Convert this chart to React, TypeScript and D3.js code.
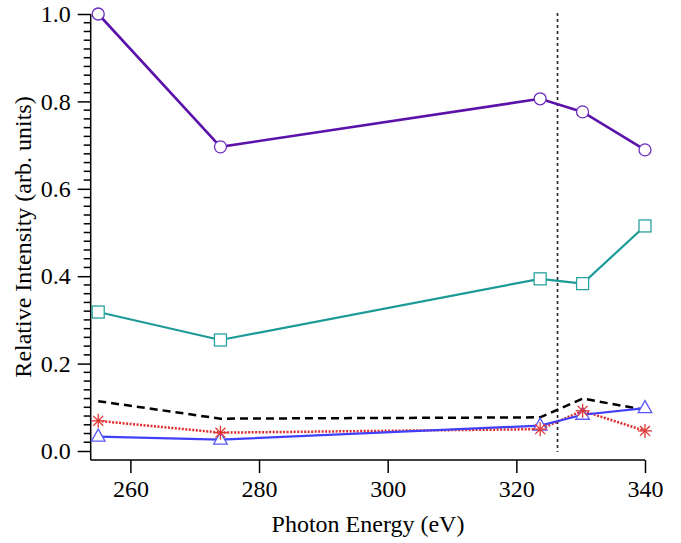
import React, { useEffect, useRef } from 'react'
import * as d3 from 'd3'

// photon energies (eV) and relative intensities per series
const energies = [255, 274, 323.7, 330.3, 340]
const circleSeries = [1.0, 0.696, 0.806, 0.776, 0.689]
const squareSeries = [0.318, 0.254, 0.394, 0.383, 0.515]
const dashedSeries = [0.114, 0.074, 0.077, 0.12, 0.094]
const starSeries = [0.069, 0.042, 0.05, 0.092, 0.046]
const triangleSeries = [0.033, 0.026, 0.058, 0.083, 0.098]
const markerLine = 326.4
const xTicks = [260, 280, 300, 320, 340]
const yTicks = [0, 0.2, 0.4, 0.6, 0.8, 1.0]

const FONT = '"Times New Roman", "Liberation Serif", Tinos, serif'

function App() {
  const ref = useRef<SVGSVGElement>(null)

  useEffect(() => {
    document.body.style.margin = '0'
    const svg = d3.select(ref.current)
    svg.selectAll('*').remove()

    const x = d3.scaleLinear().domain([253.83, 340]).range([90.7, 645])
    const y = d3.scaleLinear().domain([-0.0206, 1.0]).range([460, 14])

    // X axis
    const gx = svg
      .append('g')
      .attr('transform', 'translate(0, 460)')
      .call(d3.axisBottom(x).tickValues(xTicks).tickSize(13).tickPadding(7).tickFormat(d3.format('d')))
    gx.select('.domain').attr('d', `M${x.range()[0]},0H${x.range()[1]}`)
    // Y axis
    const gy = svg
      .append('g')
      .attr('transform', 'translate(90.7, 0)')
      .call(d3.axisLeft(y).tickValues(yTicks).tickSize(13).tickPadding(7).tickFormat(d3.format('.1f')))
    gy.select('.domain').attr('d', `M0,${y.range()[0]}V${y.range()[1]}`)
    // minor ticks
    const minor = d3.range(1, 50).map(i => i * 0.02).filter(v => Math.round(v * 100) % 20 !== 0)
    gy.selectAll('line.minor')
      .data(minor)
      .enter()
      .append('line')
      .attr('class', 'minor')
      .attr('x1', -7)
      .attr('x2', 0)
      .attr('y1', d => y(d))
      .attr('y2', d => y(d))
      .attr('stroke', '#000')
      .attr('stroke-width', 1.5)

    gx.attr('font-family', FONT).attr('font-size', 24)
    gy.attr('font-family', FONT).attr('font-size', 24)
    svg.selectAll('.domain, .tick line').attr('stroke', '#000').attr('stroke-width', 1.5)
    svg.selectAll('.tick text')
      .attr('font-family', FONT)
      .attr('font-size', 24)
      .attr('fill', '#000')

    // axis titles
    svg.append('text')
      .attr('x', 368)
      .attr('y', 532)
      .attr('text-anchor', 'middle')
      .attr('font-family', FONT)
      .attr('font-size', 24)
      .text('Photon Energy (eV)')
    svg.append('text')
      .attr('transform', 'translate(31, 237) rotate(-90)')
      .attr('text-anchor', 'middle')
      .attr('font-family', FONT)
      .attr('font-size', 24)
      .text('Relative Intensity (arb. units)')

    // vertical dotted marker
    svg.append('line')
      .attr('x1', x(markerLine))
      .attr('x2', x(markerLine))
      .attr('y1', 13)
      .attr('y2', 452)
      .attr('stroke', '#222')
      .attr('stroke-width', 1.6)
      .attr('stroke-dasharray', '3,3')

    const line = d3.line<number>().x((d, i) => x(energies[i])).y(d => y(d))

    const drawLine = (vals: number[], color: string, width: number, dash?: string) => {
      const p = svg.append('path')
        .attr('d', line(vals))
        .attr('fill', 'none')
        .attr('stroke', color)
        .attr('stroke-width', width)
      if (dash) p.attr('stroke-dasharray', dash)
    }

    drawLine(dashedSeries, '#000', 2.5, '8,5')
    drawLine(starSeries, '#e02a2a', 2.5, '2,1.5')
    drawLine(triangleSeries, '#4040f8', 2.2)
    drawLine(squareSeries, '#1b9a97', 2.2)
    drawLine(circleSeries, '#5a12aa', 2.6)

    // markers
    svg.selectAll('circle.pt')
      .data(circleSeries)
      .enter()
      .append('circle')
      .attr('cx', (d, i) => x(energies[i]))
      .attr('cy', d => y(d))
      .attr('r', 6)
      .attr('fill', '#fff')
      .attr('stroke', '#6a2cc0')
      .attr('stroke-width', 1.3)

    svg.selectAll('rect.pt')
      .data(squareSeries)
      .enter()
      .append('rect')
      .attr('x', (d, i) => x(energies[i]) - 6)
      .attr('y', d => y(d) - 6)
      .attr('width', 12)
      .attr('height', 12)
      .attr('fill', '#fff')
      .attr('stroke', '#2aa3a0')
      .attr('stroke-width', 1.3)

    svg.selectAll('path.tri')
      .data(triangleSeries)
      .enter()
      .append('path')
      .attr('d', 'M0,-7.5L6.8,4.5L-6.8,4.5Z')
      .attr('transform', (d, i) => `translate(${x(energies[i])}, ${y(d)})`)
      .attr('fill', '#fff')
      .attr('stroke', '#5a5af8')
      .attr('stroke-width', 1.3)

    const star = svg.selectAll('g.star')
      .data(starSeries)
      .enter()
      .append('g')
      .attr('transform', (d, i) => `translate(${x(energies[i])}, ${y(d)})`)
    ;[0, 45, 90, 135].forEach(a => {
      star.append('line')
        .attr('x1', -7)
        .attr('x2', 7)
        .attr('y1', 0)
        .attr('y2', 0)
        .attr('transform', `rotate(${a})`)
        .attr('stroke', '#e03434')
        .attr('stroke-width', 1.3)
    })
  }, [])

  return <svg ref={ref} width={681} height={543} style={{ display: 'block', background: '#fff' }} />
}

export default App
